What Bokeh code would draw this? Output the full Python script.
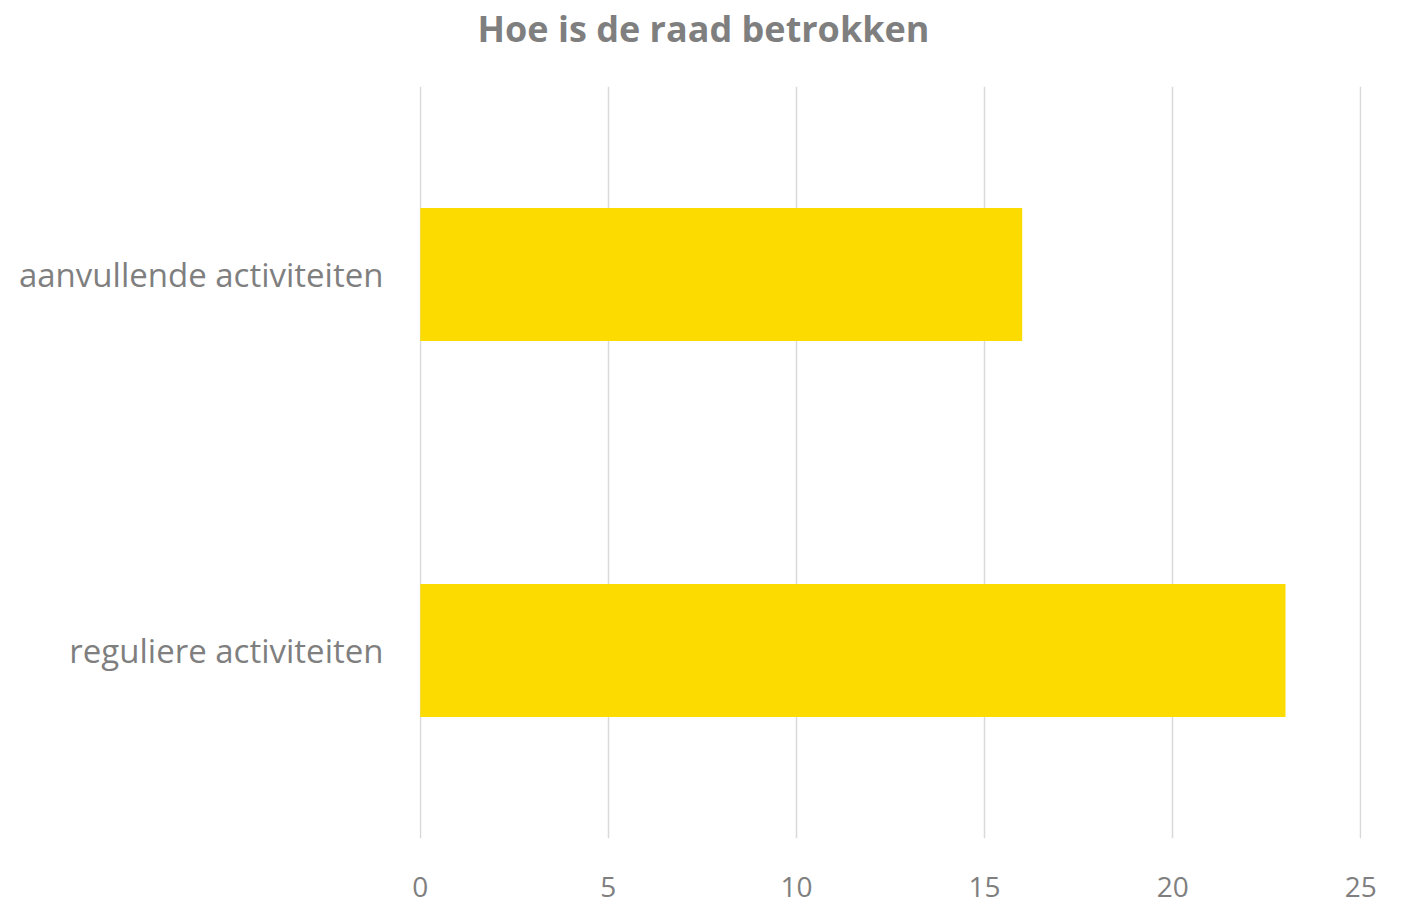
from bokeh.plotting import figure
from bokeh.models import FactorRange, Range1d, ColumnDataSource, FixedTicker
from bokeh.layouts import column
from bokeh.core.properties import value
from bokeh.embed import file_html
from bokeh.resources import INLINE

categories = ["reguliere activiteiten", "aanvullende activiteiten"]
values = [23, 16]
x_ticks = [0, 5, 10, 15, 20, 25]
title_text = "Hoe is de raad betrokken"

FONT = "Open Sans"
GREY = "#7F7F7F"
W = 1396
LEFT, RIGHT = 419, 35

# title strip (its frame is aligned with the main plot's frame by the column layout,
# so its x range is expressed in page pixels of that frame)
t = figure(width=W, height=86, x_range=Range1d(LEFT, W - RIGHT), y_range=Range1d(0, 86),
           output_backend="svg", toolbar_location=None,
           min_border_left=LEFT, min_border_right=RIGHT, min_border_top=0,
           min_border_bottom=0, outline_line_color=None)
t.axis.visible = False
t.grid.visible = False
t.text(x=[W / 2 + 5], y=[58], text=[title_text], text_align="center",
       text_baseline="middle", text_font=value(FONT), text_font_style="bold",
       text_font_size="36px", text_color=GREY)

src = ColumnDataSource(dict(cat=categories, val=values))

p = figure(
    width=W, height=817,
    y_range=FactorRange(factors=categories, range_padding=0),
    x_range=Range1d(-0.02, 25.02),
    output_backend="svg", toolbar_location=None,
    min_border_left=LEFT, min_border_right=RIGHT,
    min_border_top=0, min_border_bottom=65,
    outline_line_color=None,
)
p.hbar(y="cat", right="val", left=0, height=0.354, source=src,
       fill_color="#FCDB00", line_color=None)

p.xaxis.ticker = FixedTicker(ticks=x_ticks)
p.xaxis.axis_line_color = None
p.xaxis.major_tick_line_color = None
p.xaxis.minor_tick_line_color = None
p.xaxis.major_label_text_font = FONT
p.xaxis.major_label_text_font_size = "28px"
p.xaxis.major_label_text_color = GREY
p.xaxis.major_label_standoff = 32

p.yaxis.axis_line_color = None
p.yaxis.major_tick_line_color = None
p.yaxis.minor_tick_line_color = None
p.yaxis.major_label_text_font = FONT
p.yaxis.major_label_text_font_size = "33px"
p.yaxis.major_label_text_color = GREY
p.yaxis.major_label_standoff = 30

p.ygrid.grid_line_color = None
p.xgrid.grid_line_color = "#D9D9D9"
p.xgrid.grid_line_width = 1.5

layout = column(t, p, spacing=0)
open("out.html", "w").write(file_html(layout, INLINE))
